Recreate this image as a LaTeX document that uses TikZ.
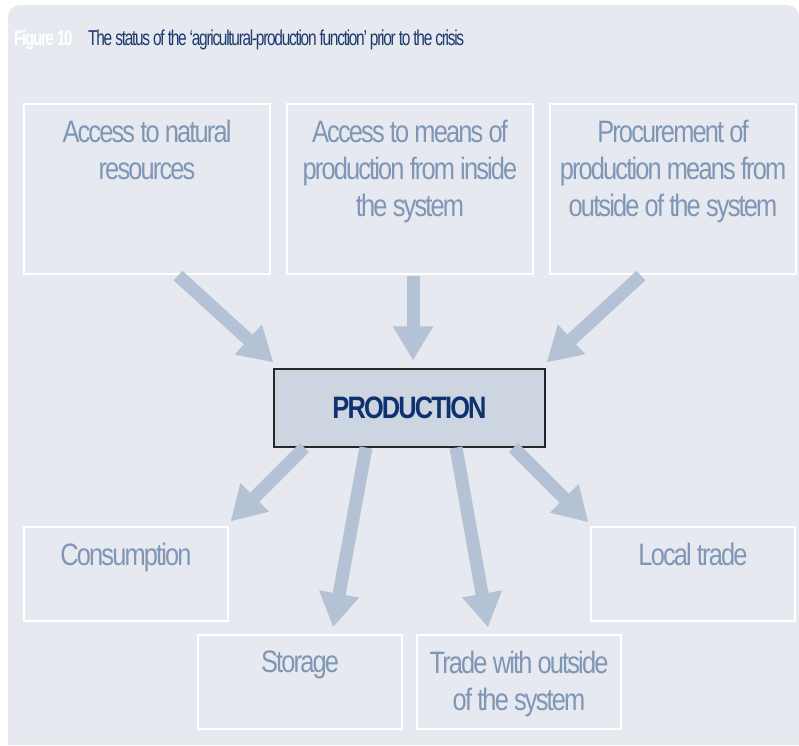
\documentclass[tikz,border=0pt]{standalone}
\usepackage{fontspec}
\setmainfont{Liberation Sans}[FakeStretch=0.82,LetterSpace=-6]
\newfontfamily\titlefont{Liberation Sans}[FakeStretch=0.72,LetterSpace=-6]
\usetikzlibrary{arrows.meta,calc}
\definecolor{bgc}{HTML}{E6E9EF}
\definecolor{txtc}{HTML}{8096B6}
\definecolor{arrc}{HTML}{B3C2D4}
\definecolor{prodfill}{HTML}{CDD5E1}
\definecolor{prodtxt}{HTML}{0E3170}
\definecolor{titc}{HTML}{1E3A6E}
\tikzset{
  box/.style={draw=white,line width=1.2pt,rectangle,inner sep=0pt},
  lbl/.style={anchor=north,inner sep=0pt,align=center,text=txtc,font=\fontsize{31}{37}\selectfont},
  flow/.style={line width=13pt,draw=arrc,-{Triangle[length=34pt,width=38pt]}},
  prodbox/.style={draw=black!85,fill=prodfill,line width=1.2pt,rectangle,inner sep=0pt,
    text=prodtxt,font=\fontsize{31}{36}\selectfont\bfseries}
}
\begin{document}
\begin{tikzpicture}[x=1pt,y=-1pt]
\useasboundingbox (0,0) rectangle (799,745);
\fill[bgc,rounded corners=12pt] (8,745) -- (8,5) -- (799,5) [sharp corners] -- (799,745) -- cycle;
% title
\node[anchor=base west,inner sep=0pt,text=white,font=\titlefont\fontsize{21}{24}\selectfont\bfseries] (fig) at (14,45) {Figure 10};
\node[anchor=base west,inner sep=0pt,text=titc,font=\titlefont\fontsize{21.5}{24}\selectfont] (title) at (88,45) {The status of the ‘agricultural-production function’ prior to the crisis};
% top boxes
\node[box,minimum width=246pt,minimum height=170pt] (b1) at (147,189) {};
\node[box,minimum width=246pt,minimum height=170pt] (b2) at (410,189) {};
\node[box,minimum width=246pt,minimum height=170pt] (b3) at (673,189) {};
\node[lbl] (l1) at ($(b1.north)+(0,16.5)$) {Access to natural\\resources};
\node[lbl] (l2) at ($(b2.north)+(0,16.5)$) {Access to means of\\production from inside\\the system};
\node[lbl] (l3) at ($(b3.north)+(0,16.5)$) {Procurement of\\production means from\\outside of the system};
% production
\node[prodbox,minimum width=271pt,minimum height=78pt] (prod) at (409.5,408) {PRODUCTION};
% bottom boxes
\node[box,minimum width=204pt,minimum height=94pt] (c1) at (126,574) {};
\node[box,minimum width=204pt,minimum height=94pt] (c2) at (300,682) {};
\node[box,minimum width=204pt,minimum height=94pt] (c3) at (519,682) {};
\node[box,minimum width=204pt,minimum height=94pt] (c4) at (693,574) {};
\node[lbl] (k1) at ($(c1.north)+(0,16.5)$) {Consumption};
\node[lbl] (k2) at ($(c2.north)+(0,16.5)$) {Storage};
\node[lbl] (k3) at ($(c3.north)+(0,16.5)$) {Trade with outside\\of the system};
\node[lbl] (k4) at ($(c4.north)+(0,16.5)$) {Local trade};
% arrows in
\draw[flow] ($(b1.south)+(31,1)$) -- ($(prod.north west)+(0,-6)$);
\draw[flow] ($(b2.south)+(3,1)$) -- ($(prod.north)+(3.5,-8)$);
\draw[flow] ($(b3.south)+(-32,1)$) -- ($(prod.north east)+(1,-6)$);
% arrows out
\draw[flow] ($(prod.south west)+(31,0)$) -- ($(c1.north east)+(2,-5)$);
\draw[flow] ($(prod.south)+(-43.5,0)$) -- ($(c2.north)+(33,-7)$);
\draw[flow] ($(prod.south)+(46.5,0)$) -- ($(c3.north)+(-31,-7)$);
\draw[flow] ($(prod.south east)+(-32,0)$) -- ($(c4.north west)+(-2,-4)$);
\end{tikzpicture}
\end{document}
